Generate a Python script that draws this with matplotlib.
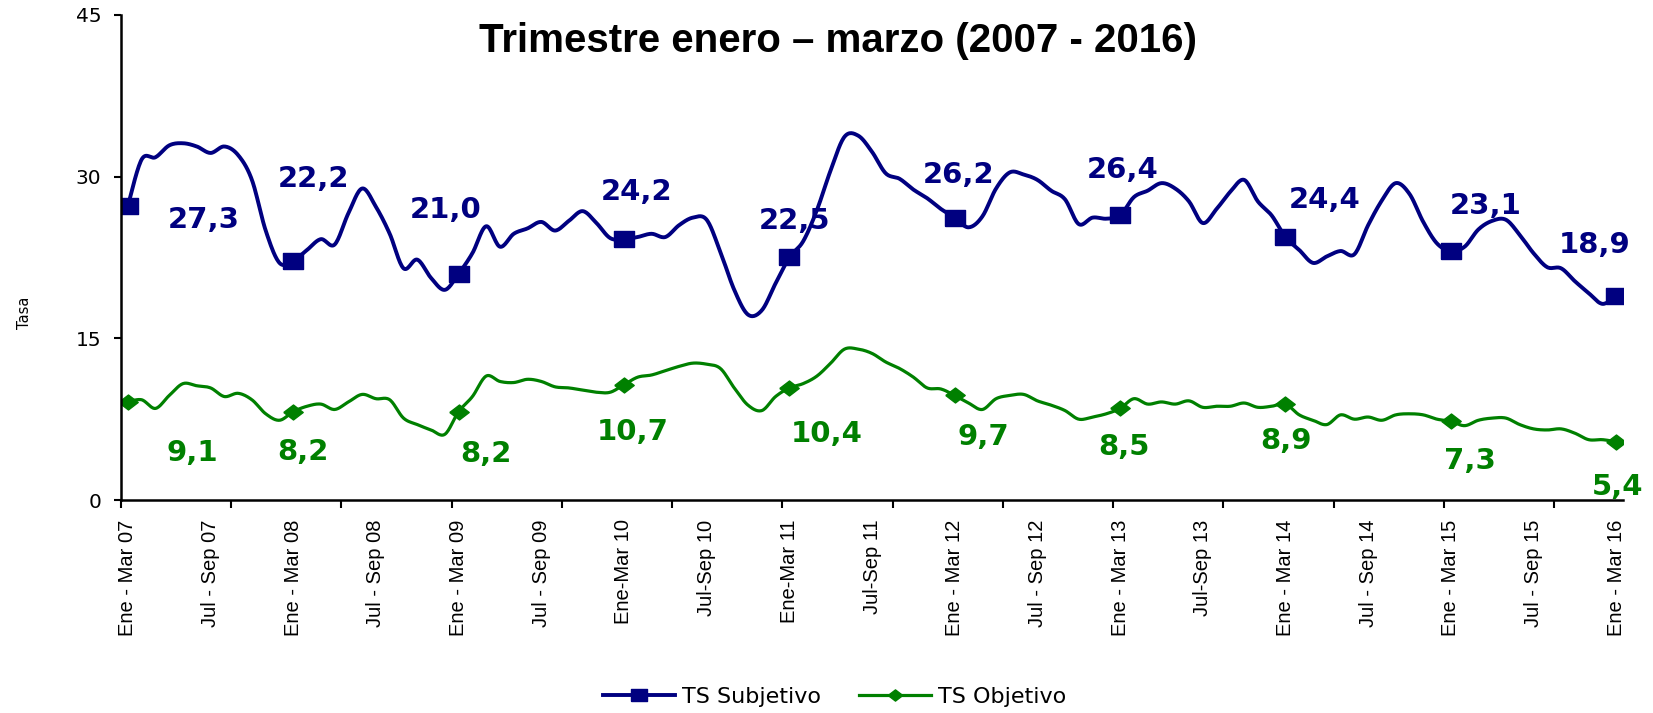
import matplotlib
matplotlib.use("Agg")
import matplotlib.pyplot as plt
import numpy as np
from matplotlib.ticker import FixedLocator, FixedFormatter

# trimestres moviles ene-mar 2007 ... ene-mar 2016 (109 valores)
ts_subjetivo = [27.3, 31.6, 31.8, 32.9, 33.1, 32.8, 32.2, 32.8, 32.0, 29.7, 25.0, 22.0,
                22.2, 23.2, 24.2, 23.7, 26.6, 28.9, 27.2, 24.7, 21.5, 22.3, 20.6, 19.5,
                21.0, 22.9, 25.4, 23.5, 24.7, 25.2, 25.8, 25.0, 25.9, 26.8, 25.7, 24.3,
                24.2, 24.4, 24.7, 24.4, 25.5, 26.2, 26.0, 23.0, 19.5, 17.2, 17.6, 20.1,
                22.5, 24.0, 26.9, 30.6, 33.7, 33.8, 32.3, 30.3, 29.8, 28.8, 28.0, 27.0,
                26.2, 25.3, 26.3, 28.9, 30.4, 30.2, 29.7, 28.7, 27.9, 25.6, 26.2, 26.1,
                26.4, 28.1, 28.7, 29.4, 28.9, 27.7, 25.7, 27.0, 28.6, 29.7, 27.7, 26.4,
                24.4, 23.2, 22.0, 22.6, 23.1, 22.8, 25.5, 27.8, 29.4, 28.4, 25.8, 23.8,
                23.1, 23.5, 25.1, 25.9, 26.0, 24.6, 22.9, 21.6, 21.5, 20.3, 19.2, 18.2,
                18.9]
ts_objetivo = [9.1, 9.3, 8.5, 9.7, 10.8, 10.6, 10.4, 9.6, 9.9, 9.3, 8.0, 7.4,
               8.2, 8.7, 8.9, 8.4, 9.1, 9.8, 9.4, 9.3, 7.6, 7.0, 6.5, 6.1,
               8.2, 9.6, 11.5, 11.0, 10.9, 11.2, 11.0, 10.5, 10.4, 10.2, 10.0, 10.0,
               10.7, 11.4, 11.6, 12.0, 12.4, 12.7, 12.6, 12.2, 10.4, 8.8, 8.3, 9.6,
               10.4, 10.8, 11.5, 12.7, 14.0, 14.0, 13.6, 12.8, 12.2, 11.4, 10.4, 10.3,
               9.7, 9.0, 8.4, 9.4, 9.7, 9.8, 9.2, 8.8, 8.3, 7.5, 7.7, 8.0,
               8.5, 9.4, 8.9, 9.1, 8.9, 9.2, 8.6, 8.7, 8.7, 9.0, 8.6, 8.7,
               8.9, 7.9, 7.4, 7.0, 7.9, 7.5, 7.7, 7.4, 7.9, 8.0, 7.9, 7.5,
               7.3, 6.9, 7.4, 7.6, 7.6, 7.0, 6.6, 6.5, 6.6, 6.2, 5.6, 5.6,
               5.4]
etiquetas_x = ["Ene - Mar 07", "Jul - Sep 07", "Ene - Mar 08", "Jul - Sep 08",
               "Ene - Mar 09", "Jul - Sep 09", "Ene-Mar 10", "Jul-Sep 10",
               "Ene-Mar 11", "Jul-Sep 11", "Ene - Mar 12", "Jul - Sep 12",
               "Ene - Mar 13", "Jul-Sep 13", "Ene - Mar 14", "Jul - Sep 14",
               "Ene - Mar 15", "Jul - Sep 15", "Ene - Mar 16"]

# desplazamiento (px) de las etiquetas de datos, una por ene-mar
offs_subj = [(76, -14), (20, 82), (-13, 64), (13, 47), (5, 36), (4, 43),
             (3, 45), (39, 37), (35, 45), (-22, 51)]
offs_obj = [(64, -51), (10, -40), (27, -42), (9, -47), (37, -46), (29, -42),
            (4, -39), (1, -37), (19, -40), (1, -45)]

AZUL = "#000080"
VERDE = "#008000"
N = 16
# marcadores algo ensanchados, como en el original
CUADRADO = [(-1.33, -1), (1.33, -1), (1.33, 1), (-1.33, 1), (-1.33, -1)]
ROMBO = [(-1.3, 0), (0, 1), (1.3, 0), (0, -1), (-1.3, 0)]


def suavizar(y, n=N):
    # curva suavizada tipo Excel (Bezier / Catmull-Rom)
    y = np.asarray(y, float)
    p = np.column_stack([np.arange(len(y), dtype=float), y])
    p = np.vstack([p[0], p, p[-1]])
    t = np.linspace(0, 1, n, endpoint=False)[:, None]
    segs = []
    for i in range(1, len(p) - 2):
        p0, p1, p2, p3 = p[i - 1], p[i], p[i + 1], p[i + 2]
        c1 = p1 + (p2 - p0) / 6
        c2 = p2 - (p3 - p1) / 6
        segs.append((1 - t) ** 3 * p1 + 3 * (1 - t) ** 2 * t * c1
                    + 3 * (1 - t) * t ** 2 * c2 + t ** 3 * p2)
    segs.append(p[-2][None, :])
    out = np.vstack(segs)
    return out[:, 0], out[:, 1]


plt.rcParams["font.family"] = ["Liberation Sans", "DejaVu Sans"]

fig = plt.figure(figsize=(16.53, 7.13), dpi=100)
ax = fig.add_axes([0.0732, 0.2987, 0.9087, 0.6803])

x = np.arange(len(ts_subjetivo))
marcas = list(range(0, len(x), 12))

xs, ys = suavizar(ts_subjetivo)
ax.plot(xs, ys, color=AZUL, lw=2.8, marker=CUADRADO, ms=14.5,
        markevery=[i * N for i in marcas], label="TS Subjetivo")
xs, ys = suavizar(ts_objetivo)
ax.plot(xs, ys, color=VERDE, lw=2.3, marker=ROMBO, ms=14,
        markevery=[i * N for i in marcas], label="TS Objetivo")

for k, i in enumerate(marcas):
    v = ts_subjetivo[i]
    ax.annotate(f"{v:.1f}".replace(".", ","), (x[i], v), xytext=offs_subj[k],
                textcoords="offset pixels", ha="center", va="center",
                fontsize=21, fontweight="bold", color=AZUL, family="DejaVu Sans")
    v = ts_objetivo[i]
    ax.annotate(f"{v:.1f}".replace(".", ","), (x[i], v), xytext=offs_obj[k],
                textcoords="offset pixels", ha="center", va="center",
                fontsize=21, fontweight="bold", color=VERDE, family="DejaVu Sans")

ax.set_xlim(-0.5, len(x) - 0.5)
ax.set_ylim(0, 45)
ax.set_yticks([0, 15, 30, 45])
ax.tick_params(axis="y", labelsize=14.5, length=5, width=1.5, pad=9,
               direction="out")
for lbl in ax.get_yticklabels():
    lbl.set_family("DejaVu Sans")

# marcas de graduacion cada 8, etiquetas cada 6
ax.xaxis.set_major_locator(FixedLocator(np.arange(-0.5, len(x) - 1, 8)))
ax.xaxis.set_major_formatter(FixedFormatter([""] * 20))
ax.xaxis.set_minor_locator(FixedLocator(x[::6]))
ax.xaxis.set_minor_formatter(FixedFormatter(etiquetas_x))
ax.tick_params(axis="x", which="major", length=6, width=1.5)
ax.tick_params(axis="x", which="minor", length=0, pad=14, labelsize=14.5,
               labelrotation=90)

for s in ["top", "right"]:
    ax.spines[s].set_visible(False)
for s in ["left", "bottom"]:
    ax.spines[s].set_linewidth(1.8)

ax.set_ylabel("Tasa", fontsize=10.5, family="DejaVu Sans")
ax.yaxis.set_label_coords(-0.059, 0.385)

fig.text(0.507, 0.927, "Trimestre enero \u2013 marzo (2007 - 2016)",
         ha="center", va="baseline", fontsize=29, fontweight="bold")

fig.legend(loc="center", bbox_to_anchor=(0.505, 0.0225), ncol=2, frameon=False,
           prop={"family": "DejaVu Sans", "size": 16}, handlelength=3.24,
           handletextpad=0.32, columnspacing=1.7, markerscale=0.75)

fig.savefig("out.png", dpi=100)
